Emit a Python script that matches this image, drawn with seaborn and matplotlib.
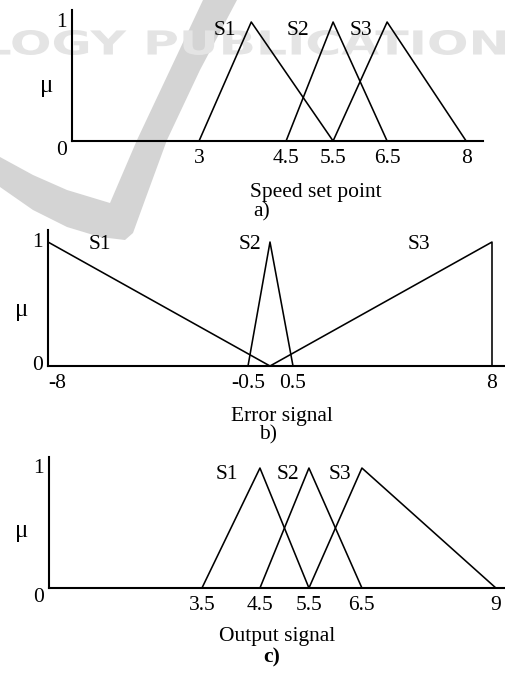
import numpy as np
import pandas as pd
import matplotlib
matplotlib.use("Agg")
import matplotlib.pyplot as plt
from matplotlib.textpath import TextPath
from matplotlib.patches import PathPatch, Polygon
from matplotlib.font_manager import FontProperties
from matplotlib.transforms import Affine2D
import seaborn as sns

# ---------------- membership functions ----------------
SET_NAMES = ["S1", "S2", "S3"]

# a) speed set point
speed_ticks = [3, 4.5, 5.5, 6.5, 8]
speed_s1_x = [3, 3.9, 5.5]
speed_s2_x = [4.5, 5.5, 6.5]
speed_s3_x = [5.5, 6.5, 8]
speed_mu = [0, 1, 0]

# b) error signal
error_ticks = [-8, -0.5, 0.5, 8]
error_s1_x = [-8, 0]
error_s1_mu = [1, 0]
error_s2_x = [-0.5, 0, 0.5]
error_s2_mu = [0, 1, 0]
error_s3_x = [0, 8, 8]
error_s3_mu = [0, 1, 0]

# c) output signal
output_ticks = [3.5, 4.5, 5.5, 6.5, 9]
output_s1_x = [3.5, 4.5, 5.5]
output_s2_x = [4.5, 5.5, 6.5]
output_s3_x = [5.5, 6.5, 9]
output_mu = [0, 1, 0]

AXIS_TITLES = ["Speed set point", "Error signal", "Output signal"]
CAPTIONS = ["a)", "b)", "c)"]


def long_frame(xs_list, mus_list):
    parts = [pd.DataFrame({"x": xs, "mu": mus, "set": name})
             for name, xs, mus in zip(SET_NAMES, xs_list, mus_list)]
    return pd.concat(parts, ignore_index=True)


frames = [
    long_frame([speed_s1_x, speed_s2_x, speed_s3_x], [speed_mu] * 3),
    long_frame([error_s1_x, error_s2_x, error_s3_x],
               [error_s1_mu, error_s2_mu, error_s3_mu]),
    long_frame([output_s1_x, output_s2_x, output_s3_x], [output_mu] * 3),
]
tick_sets = [speed_ticks, error_ticks, output_ticks]


# ---------------- schematic (piecewise-linear) axis scales ----------------
def stop_scale(values, positions):
    v = np.asarray(values, float)
    p = np.asarray(positions, float)

    def lin(x, xs, ys):
        x = np.asarray(x, float)
        out = np.interp(x, xs, ys)
        lo = (ys[1] - ys[0]) / (xs[1] - xs[0])
        hi = (ys[-1] - ys[-2]) / (xs[-1] - xs[-2])
        out = np.where(x < xs[0], ys[0] + (x - xs[0]) * lo, out)
        out = np.where(x > xs[-1], ys[-1] + (x - xs[-1]) * hi, out)
        return out

    return (lambda x: lin(x, v, p)), (lambda y: lin(y, p, v))


layout = [
    dict(rect=[72 / 505, 534 / 675, 411 / 505, 131 / 675],
         stops=([0, 3, 4.5, 5.5, 6.5, 8], [72, 199, 286, 333, 387, 466]),
         xlim=(0, 8.32), ytop=1.101,
         zero_va="top", one_va="center",
         mu_pos=(-0.061, 0.42), xlabel_pos=(0.594, -0.39),
         caption_pos=(0.462, -0.54),
         set_pos=[(0.372, 0.847), (0.55, 0.847), (0.703, 0.847)]),
    dict(rect=[48 / 505, 309 / 675, 457 / 505, 136 / 675],
         stops=([-8, -0.5, 0, 0.5, 8], [48, 248, 270, 293, 492]),
         xlim=(-8, 8.49), ytop=1.097,
         zero_va="center", one_va="center",
         mu_pos=(-0.057, 0.41), xlabel_pos=(0.512, -0.375),
         caption_pos=(0.481, -0.507),
         set_pos=[(0.114, 0.89), (0.442, 0.89), (0.812, 0.89)]),
    dict(rect=[49 / 505, 87 / 675, 456 / 505, 131 / 675],
         stops=([0, 3.5, 4.5, 5.5, 6.5, 9], [49, 202, 260, 309, 362, 496]),
         xlim=(0, 9.17), ytop=1.092,
         zero_va="top", one_va="center",
         mu_pos=(-0.059, 0.435), xlabel_pos=(0.5, -0.374),
         caption_pos=(0.489, -0.527),
         set_pos=[(0.39, 0.863), (0.524, 0.863), (0.638, 0.863)]),
]

# ---------------- style ----------------
sns.set_theme(style="white")
plt.rcParams["font.family"] = ["Liberation Serif", "DejaVu Serif"]
FS = 15.5
MU_FS = 18
INK = "black"

fig = plt.figure(figsize=(5.05, 6.75), dpi=100)
fig.patch.set_facecolor("white")

# faint publisher watermark behind the panels
wm = fig.add_axes([0, 0, 1, 1], zorder=0)
wm.set_xlim(0, 505)
wm.set_ylim(675, 0)
wm.axis("off")
swoosh = [(203, 0), (237, 0), (200, 70), (167, 140), (145, 200), (133, 233),
          (125, 240), (100, 237), (67, 227), (33, 210), (0, 187), (0, 157),
          (33, 175), (67, 190), (110, 203), (137, 140), (170, 70)]
wm.add_patch(Polygon(swoosh, closed=True, facecolor="#d4d4d4",
                     edgecolor="none"))
tp = TextPath((0, 0), "LOGY PUBLICATION",
              prop=FontProperties(family="DejaVu Sans", weight="bold"), size=1)
ext = tp.get_extents()
sx = 520 / ext.width
sy = 25 / ext.height
tr = Affine2D().translate(-ext.x0, -ext.y0).scale(sx, -sy).translate(-15, 55)
wm.add_patch(PathPatch(tr.transform_path(tp), facecolor="#e4e4e4",
                       edgecolor="none"))

for df, ticks, cfg, title, cap in zip(frames, tick_sets, layout,
                                      AXIS_TITLES, CAPTIONS):
    ax = fig.add_axes(cfg["rect"], zorder=1)
    ax.set_facecolor("none")
    sns.lineplot(data=df, x="x", y="mu", hue="set", estimator=None,
                 sort=False, palette=[INK] * 3, legend=False,
                 linewidth=1.15, ax=ax)
    fwd, inv = stop_scale(*cfg["stops"])
    ax.set_xscale("function", functions=(fwd, inv))
    ax.set_xlim(*cfg["xlim"])
    ax.set_ylim(0, cfg["ytop"])

    ax.set_xticks(ticks)
    ax.set_xticklabels([f"{t:g}" for t in ticks], fontsize=FS)
    ax.set_yticks([0, 1])
    ax.set_yticklabels(["0", "1"], fontsize=FS)
    ax.tick_params(axis="x", length=0, pad=6.0, colors=INK)
    ax.tick_params(axis="y", length=0, pad=3.5, colors=INK)
    ax.minorticks_off()
    ylabs = ax.get_yticklabels()
    ylabs[0].set_va(cfg["zero_va"])
    ylabs[1].set_va(cfg["one_va"])
    if ticks[0] < 0:
        ax.get_xticklabels()[0].set_ha("left")

    for side in ("top", "right"):
        ax.spines[side].set_visible(False)
    for side in ("left", "bottom"):
        ax.spines[side].set_color(INK)
        ax.spines[side].set_linewidth(1.5)

    ax.set_ylabel("μ", rotation=0, fontsize=MU_FS, color=INK)
    ax.yaxis.set_label_coords(*cfg["mu_pos"])
    ax.yaxis.label.set_va("center")
    ax.yaxis.label.set_ha("center")
    ax.set_xlabel(title, fontsize=FS, color=INK)
    ax.xaxis.set_label_coords(*cfg["xlabel_pos"])
    ax.xaxis.label.set_va("center")

    ax.text(*cfg["caption_pos"], cap, transform=ax.transAxes, ha="center",
            va="center", fontsize=FS, color=INK,
            fontweight="bold" if cap == "c)" else "normal")
    for name, (px, py) in zip(SET_NAMES, cfg["set_pos"]):
        ax.text(px, py, name, transform=ax.transAxes, ha="center",
                va="center", fontsize=FS, color=INK)

fig.savefig("out.png", dpi=100)
